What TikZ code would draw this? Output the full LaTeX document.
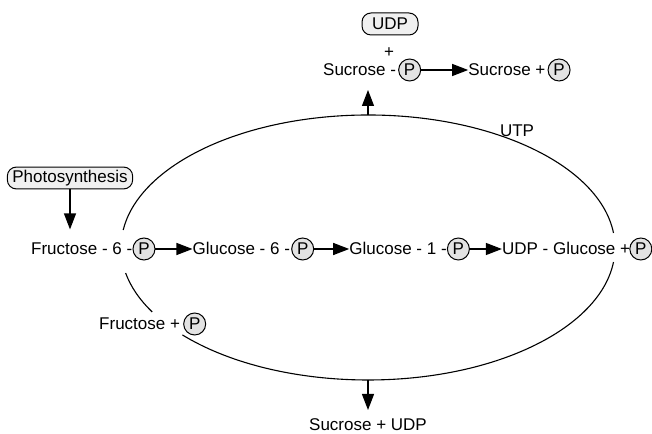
\documentclass[tikz,border=0pt]{standalone}
\usepackage{fontspec}
\setmainfont{Liberation Sans}
\usepackage{tikz}
\usetikzlibrary{arrows.meta, positioning}

\tikzset{
  lbl/.style={inner sep=0pt, text height=12pt, text depth=0pt},
  pgrp/.style={circle, draw, line width=1pt, fill=gray!22, inner sep=0pt, minimum size=22pt, text height=12pt, text depth=0pt},
  pill/.style={draw, line width=1pt, rounded corners=9pt, fill=gray!12, inner xsep=5pt, inner ysep=3pt},
  flow/.style={line width=1.2pt, -{Triangle[length=16pt, width=12pt]}},
  cyc/.style={line width=1.1pt},
}

\begin{document}
\begin{tikzpicture}[x=1pt, y=1pt, font=\fontsize{17}{20}\selectfont]
  \useasboundingbox (0,0) rectangle (652,433);
  % the cycle
  \coordinate (cen) at (368,185.5);
  \coordinate (top) at (368,318);
  \coordinate (bot) at (368,53);
  \draw[cyc] (cen) ++(6.3:247pt and 132.5pt)
    arc[start angle=6.3, end angle=172.4, x radius=247pt, y radius=132.5pt];
  \draw[cyc] (cen) ++(191.1:247pt and 132.5pt)
    arc[start angle=191.1, end angle=209.1, x radius=247pt, y radius=132.5pt];
  \draw[cyc] (cen) ++(221.3:247pt and 132.5pt)
    arc[start angle=221.3, end angle=353.7, x radius=247pt, y radius=132.5pt];

  % main row
  \node[lbl, anchor=west] (fru6) at (31,184) {Fructose - 6 -};
  \node[pgrp, right=0pt of fru6] (fru6p) {P};
  \node[lbl, right=37pt of fru6p] (glc6) {Glucose - 6 -};
  \node[pgrp, right=1pt of glc6] (glc6p) {P};
  \node[lbl, right=35pt of glc6p] (glc1) {Glucose - 1 -};
  \node[pgrp, right=0pt of glc1] (glc1p) {P};
  \node[lbl, right=32pt of glc1p] (udpg) {UDP - Glucose +};
  \node[pgrp, right=-1pt of udpg] (udpgp) {P};
  \draw[flow] (fru6p) -- (glc6);
  \draw[flow] (glc6p) -- (glc1);
  \draw[flow] (glc1p) -- (udpg);

  % top
  \node[pill, minimum width=56pt, minimum height=22pt] (udp) at (390,409) {UDP};
  \node[lbl] (plus) at (389,381) {+};
  \node[lbl, anchor=west] (sucp) at (323,363) {Sucrose -};
  \node[pgrp, right=2pt of sucp] (sucpp) {P};
  \node[lbl, right=47pt of sucpp] (suc) {Sucrose +};
  \node[pgrp, right=2pt of suc] (sucpc) {P};
  \draw[flow] (sucpp) -- (suc);
  \draw[flow] (top) -- ++(0,25);
  \node[lbl] (utp) at (517,302) {UTP};

  % left
  \node[pill] (photo) at (70,255) {Photosynthesis};
  \draw[flow] (photo.south) -- ++(0,-40);
  \node[lbl, anchor=west] (frup) at (99,109) {Fructose +};
  \node[pgrp, right=3pt of frup] (frupp) {P};

  % bottom
  \draw[flow] (bot) -- ++(0,-30);
  \node[lbl] (sucudp) at (368,9) {Sucrose + UDP};
\end{tikzpicture}
\end{document}
